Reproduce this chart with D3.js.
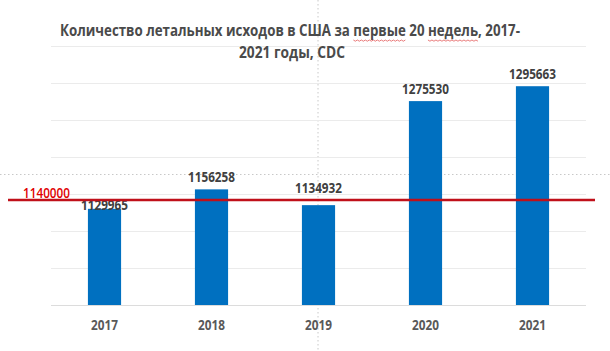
<!DOCTYPE html>
<html>
<head>
<meta charset="utf-8">
<script src="https://cdn.jsdelivr.net/npm/d3@7"></script>
<style>
    html, body { margin: 0; padding: 0; background: #fff; }
    svg text { font-family: "Open Sans", "Noto Sans", sans-serif; }
</style>
</head>
<body>
<div id="chart"></div>
<script>
const years = ['2017', '2018', '2019', '2020', '2021'];
const deaths = [1129965, 1156258, 1134932, 1275530, 1295663];
const yTicks = [1000000, 1050000, 1100000, 1150000, 1200000, 1250000, 1300000, 1350000];
const threshold = 1140000;
const titleLines = ['Количество летальных исходов в США за первые 20 недель, 2017-', '2021 годы, CDC'];
const misspelled = ['первые', 'недель'];

const width = 610;
const height = 351;
const margin = {top: 46, right: 24, bottom: 46, left: 51};

const svg = d3.select('#chart').append('svg')
    .attr('width', width)
    .attr('height', height);

// squeeze text to the narrower width of the original font
function fit(sel, target) {
    sel.each(function() {
        if (this.getComputedTextLength() > target) {
            d3.select(this)
                .attr('textLength', target)
                .attr('lengthAdjust', 'spacingAndGlyphs');
        }
    });
}

const x = d3.scaleBand()
    .domain(years)
    .range([margin.left, width - margin.right])
    .paddingInner(0.69)
    .paddingOuter(0.345);

const y = d3.scaleLinear()
    .domain([1000000, 1350000])
    .range([height - margin.bottom, margin.top]);

// slide guides (dotted)
svg.append('line')
    .attr('x1', 0).attr('x2', width)
    .attr('y1', 174.5).attr('y2', 174.5)
    .attr('stroke', '#c8c8c8')
    .attr('stroke-dasharray', '1.5,2.5');

svg.append('line')
    .attr('x1', x('2019') + x.bandwidth() / 2 - 0.5).attr('x2', x('2019') + x.bandwidth() / 2 - 0.5)
    .attr('y1', 0).attr('y2', height)
    .attr('stroke', '#c8c8c8')
    .attr('stroke-dasharray', '1.5,2.5');

// gridlines
svg.append('g')
    .selectAll('line')
    .data(yTicks)
    .join('line')
    .attr('x1', margin.left)
    .attr('x2', width - margin.right)
    .attr('y1', d => Math.round(y(d)) + 0.5)
    .attr('y2', d => Math.round(y(d)) + 0.5)
    .attr('stroke', d => d === 1000000 ? '#dcdcdc' : '#ebebeb');

// bars
svg.append('g')
    .selectAll('rect')
    .data(deaths)
    .join('rect')
    .attr('x', (d, i) => x(years[i]))
    .attr('width', x.bandwidth())
    .attr('y', d => y(d))
    .attr('height', d => y(1000000) - y(d))
    .attr('fill', '#0070c0');

// data labels (2017 and 2019 were moved by hand in the original)
const labelShift = {'2017': 8, '2019': -5};
svg.append('g')
    .selectAll('text')
    .data(deaths)
    .join('text')
    .attr('x', (d, i) => x(years[i]) + x.bandwidth() / 2)
    .attr('y', (d, i) => y(d) - 7 + (labelShift[years[i]] || 0))
    .attr('text-anchor', 'middle')
    .attr('font-size', 14)
    .attr('font-weight', 700)
    .attr('fill', '#404040')
    .text(d => d)
    .call(fit, 47);

// year axis
const xAxis = svg.append('g')
    .attr('transform', 'translate(0,' + (height - margin.bottom) + ')')
    .call(d3.axisBottom(x).tickSize(0).tickPadding(15));
xAxis.select('.domain').remove();
xAxis.selectAll('text')
    .attr('font-size', 13.5)
    .attr('font-weight', 700)
    .attr('fill', '#595959')
    .attr('font-family', '"Open Sans", sans-serif')
    .call(fit, 27);

// threshold line
svg.append('line')
    .attr('x1', 8).attr('x2', 595)
    .attr('y1', y(threshold) - 1.5).attr('y2', y(threshold) - 1.5)
    .attr('stroke', '#c0101a')
    .attr('stroke-width', 2.5);

svg.append('text')
    .attr('x', 23)
    .attr('y', y(threshold) - 3)
    .attr('font-size', 14)
    .attr('font-weight', 600)
    .attr('fill', '#e00000')
    .text(threshold)
    .call(fit, 47);

// title
const title = svg.append('g')
    .attr('font-size', 15.5)
    .attr('font-weight', 700)
    .attr('fill', '#4a4a4a');

const line1 = title.append('text')
    .attr('x', 60).attr('y', 36)
    .text(titleLines[0])
    .call(fit, 460);

title.append('text')
    .attr('x', 292).attr('y', 58)
    .attr('text-anchor', 'middle')
    .text(titleLines[1])
    .call(fit, 106);

// spell-check squiggles under the misspelled words
const node = line1.node();
misspelled.forEach(word => {
    const start = titleLines[0].indexOf(word);
    const x0 = node.getStartPositionOfChar(start).x;
    const x1 = node.getEndPositionOfChar(start + word.length - 1).x;
    const pts = d3.range(x0, x1, 2).map((px, i) => [px, 40 + (i % 2 ? 1.2 : 0)]);
    svg.append('path')
        .attr('d', d3.line()(pts))
        .attr('fill', 'none')
        .attr('stroke', '#e35a5a')
        .attr('stroke-width', 0.8);
});
</script>
</body>
</html>
